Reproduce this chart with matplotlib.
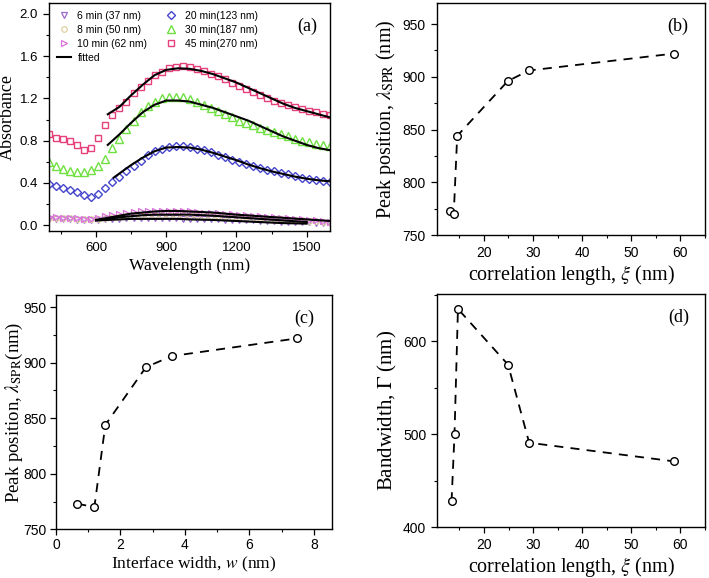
import matplotlib
matplotlib.use("Agg")
import matplotlib.pyplot as plt
from matplotlib.ticker import MultipleLocator

plt.rcParams['font.family'] = ['Liberation Sans', 'DejaVu Sans']
plt.rcParams['mathtext.fontset'] = 'stix'

# ---- panel (a): absorbance spectra ----
wl = [400, 430, 460, 490, 520, 550, 580, 610, 640, 670, 700, 730, 760, 790, 820,
      850, 880, 910, 940, 970, 1000, 1030, 1060, 1090, 1120, 1150, 1180, 1210,
      1240, 1270, 1300, 1330, 1360, 1390, 1420, 1450, 1480, 1510, 1540, 1570, 1600]

abs_6 = [0.06, 0.06, 0.055, 0.055, 0.05, 0.05, 0.045, 0.05, 0.055, 0.06, 0.06, 0.065,
         0.065, 0.065, 0.065, 0.065, 0.065, 0.065, 0.065, 0.06, 0.06, 0.06, 0.055,
         0.055, 0.055, 0.05, 0.05, 0.05, 0.045, 0.045, 0.04, 0.04, 0.04, 0.035, 0.035,
         0.03, 0.03, 0.03, 0.025, 0.025, 0.02]
abs_8 = [0.07, 0.07, 0.065, 0.065, 0.06, 0.06, 0.055, 0.06, 0.07, 0.075, 0.08, 0.085,
         0.09, 0.095, 0.095, 0.10, 0.10, 0.10, 0.10, 0.10, 0.095, 0.095, 0.09, 0.09,
         0.085, 0.085, 0.08, 0.075, 0.075, 0.07, 0.065, 0.06, 0.06, 0.055, 0.05, 0.05,
         0.045, 0.04, 0.04, 0.035, 0.03]
abs_10 = [0.08, 0.075, 0.07, 0.07, 0.065, 0.06, 0.06, 0.07, 0.085, 0.10, 0.11, 0.12,
          0.125, 0.13, 0.13, 0.135, 0.135, 0.135, 0.135, 0.13, 0.13, 0.125, 0.12, 0.12,
          0.115, 0.11, 0.105, 0.10, 0.095, 0.09, 0.085, 0.08, 0.075, 0.07, 0.065, 0.06,
          0.055, 0.05, 0.045, 0.04, 0.035]
abs_20 = [0.39, 0.37, 0.35, 0.33, 0.31, 0.29, 0.27, 0.30, 0.35, 0.41, 0.46, 0.51, 0.56,
          0.61, 0.66, 0.70, 0.725, 0.74, 0.75, 0.745, 0.74, 0.725, 0.71, 0.69, 0.665,
          0.645, 0.62, 0.60, 0.58, 0.56, 0.545, 0.525, 0.51, 0.495, 0.48, 0.465, 0.45,
          0.435, 0.425, 0.415, 0.405]
abs_30 = [0.60, 0.56, 0.53, 0.51, 0.50, 0.50, 0.52, 0.56, 0.63, 0.73, 0.82, 0.91, 0.99,
          1.07, 1.13, 1.17, 1.20, 1.21, 1.215, 1.21, 1.19, 1.17, 1.14, 1.11, 1.08, 1.05,
          1.02, 0.99, 0.97, 0.95, 0.92, 0.90, 0.88, 0.86, 0.84, 0.82, 0.80, 0.79, 0.77,
          0.76, 0.75]
abs_45 = [0.86, 0.83, 0.82, 0.80, 0.76, 0.71, 0.73, 0.83, 0.95, 1.04, 1.11, 1.17, 1.25,
          1.31, 1.36, 1.42, 1.45, 1.485, 1.50, 1.505, 1.50, 1.48, 1.46, 1.43, 1.41, 1.38,
          1.35, 1.32, 1.29, 1.26, 1.23, 1.20, 1.18, 1.16, 1.14, 1.12, 1.10, 1.08, 1.07,
          1.05, 1.04]

# fitted curves
fit_wl_hi = [650, 700, 750, 800, 850, 900, 950, 1000, 1050, 1100, 1150, 1200, 1250,
             1300, 1350, 1400, 1450, 1500, 1550, 1600]
fit_45 = [1.05, 1.12, 1.23, 1.33, 1.42, 1.47, 1.485, 1.48, 1.46, 1.43, 1.39, 1.35, 1.30,
          1.25, 1.20, 1.15, 1.11, 1.08, 1.05, 1.02]
fit_30 = [0.76, 0.86, 0.97, 1.07, 1.14, 1.18, 1.18, 1.17, 1.14, 1.11, 1.07, 1.03, 0.99,
          0.94, 0.89, 0.84, 0.80, 0.76, 0.73, 0.71]
fit_wl_20 = [675, 700, 750, 800, 850, 900, 950, 1000, 1050, 1100, 1150, 1200, 1250,
             1300, 1350, 1400, 1450, 1500, 1550, 1600]
fit_20 = [0.45, 0.49, 0.57, 0.64, 0.70, 0.735, 0.74, 0.735, 0.715, 0.685, 0.65, 0.615,
          0.575, 0.54, 0.51, 0.485, 0.46, 0.44, 0.425, 0.415]
fit_wl_lo = [600, 650, 700, 750, 800, 850, 900, 950, 1000, 1100, 1200, 1300, 1400, 1500, 1600]
fit_10 = [0.05, 0.07, 0.09, 0.11, 0.12, 0.13, 0.135, 0.135, 0.13, 0.12, 0.10, 0.085,
          0.07, 0.055, 0.04]
fit_8 = [0.05, 0.06, 0.075, 0.085, 0.095, 0.10, 0.10, 0.10, 0.10, 0.09, 0.075, 0.06,
         0.045, 0.03]
fit_6 = [0.045, 0.05, 0.055, 0.06, 0.06, 0.06, 0.06, 0.06, 0.055, 0.05, 0.04, 0.03,
         0.02, 0.015]

# ---- panels (b)-(d) ----
xi = [13.2, 13.9, 14.6, 24.9, 29.2, 58.6]
w = [0.66, 1.19, 1.53, 2.79, 3.59, 7.49]
peak = [773, 770, 844, 896, 906, 922]
xi_d = [13.4, 14.0, 14.7, 24.9, 29.2, 58.6]
bandwidth = [428, 500, 635, 575, 491, 471]

fig = plt.figure(figsize=(7.09, 5.78), dpi=100)
ax_a = fig.add_axes([0.0695, 0.6012, 0.396, 0.3931])
ax_b = fig.add_axes([0.6164, 0.5934, 0.378, 0.4014])
ax_c = fig.add_axes([0.079, 0.0843, 0.3888, 0.4053])
ax_d = fig.add_axes([0.6168, 0.0877, 0.3776, 0.4036])

serif = 'Liberation Serif'


def style(ax, fs, pad=4):
    ax.tick_params(which='both', direction='out', labelsize=fs, top=False, right=False)
    ax.tick_params(which='major', length=4, width=0.9, pad=pad)
    ax.tick_params(which='minor', length=2.5, width=0.8)
    for s in ax.spines.values():
        s.set_linewidth(1.0)


# (a)
ax_a.plot(wl, abs_6, 'v', mfc='none', mec='#9a6ad0', ms=4, mew=0.9, label='6 min (37 nm)')
ax_a.plot(wl, abs_8, 'o', mfc='none', mec='#e0d0a0', ms=4, mew=0.9, label='8 min (50 nm)')
ax_a.plot(wl, abs_10, '>', mfc='none', mec='#dc70dc', ms=4, mew=0.9, label='10 min (62 nm)')
ax_a.plot(fit_wl_lo, fit_10, '-', color='black', lw=1.5, label='fitted')
ax_a.plot(fit_wl_lo[:-1], fit_8, '-', color='black', lw=1.5)
ax_a.plot(fit_wl_lo[:-1], fit_6, '-', color='black', lw=1.5)
ax_a.plot(wl, abs_20, 'D', mfc='none', mec='#4646cc', ms=4.5, mew=1.0, label='20 min(123 nm)')
ax_a.plot(wl, abs_30, '^', mfc='none', mec='#6ee040', ms=5.5, mew=1.0, label='30 min(187 nm)')
ax_a.plot(wl, abs_45, 's', mfc='none', mec='#e6407c', ms=5, mew=1.0, label='45 min(270 nm)')
ax_a.plot(fit_wl_hi, fit_45, '-', color='black', lw=1.5)
ax_a.plot(fit_wl_hi, fit_30, '-', color='black', lw=1.5)
ax_a.plot(fit_wl_20, fit_20, '-', color='black', lw=1.5)

ax_a.set_xlim(400, 1600)
ax_a.set_ylim(-0.05, 2.1)
ax_a.xaxis.set_major_locator(MultipleLocator(300))
ax_a.xaxis.set_minor_locator(MultipleLocator(150))
ax_a.yaxis.set_major_locator(MultipleLocator(0.4))
ax_a.yaxis.set_minor_locator(MultipleLocator(0.2))
ax_a.yaxis.set_major_formatter(plt.FormatStrFormatter('%.1f'))
ax_a.set_xlabel('Wavelength (nm)', family=serif, fontsize=12.5, labelpad=3)
ax_a.set_ylabel('Absorbance', family=serif, fontsize=13, labelpad=3)
ax_a.text(0.92, 0.90, '(a)', transform=ax_a.transAxes, family=serif, fontsize=13,
          ha='center', va='center')
ax_a.legend(ncol=2, loc='upper left', bbox_to_anchor=(0.0, 1.0), frameon=False,
            fontsize=7.5, handlelength=1.4, handletextpad=0.6, columnspacing=1.6,
            labelspacing=0.4, borderaxespad=0.3)
style(ax_a, 9.5)

# (b)
line_kw = dict(color='black', ls=(0, (5, 4)), lw=1.3, marker='o', mfc='white',
               mec='black', ms=5.5, mew=1.0)
ax_b.plot(xi, peak, **line_kw)
ax_b.set_xlim(10.5, 65)
ax_b.set_ylim(750, 970)
ax_b.xaxis.set_major_locator(MultipleLocator(10))
ax_b.xaxis.set_minor_locator(MultipleLocator(5))
ax_b.yaxis.set_major_locator(MultipleLocator(50))
ax_b.yaxis.set_minor_locator(MultipleLocator(25))
ax_b.set_xlabel(r'correlation length, $\xi$ (nm)', family=serif, fontsize=14.5, labelpad=2)
ax_b.set_ylabel(r'Peak position, $\lambda_{\rm SPR}$ (nm)', family=serif, fontsize=14.5,
                labelpad=3)
ax_b.text(0.90, 0.90, '(b)', transform=ax_b.transAxes, family=serif, fontsize=13,
          ha='center', va='center')
style(ax_b, 10)

# (c)
ax_c.plot(w, peak, **line_kw)
ax_c.set_xlim(0, 8.55)
ax_c.set_ylim(750, 961)
ax_c.xaxis.set_major_locator(MultipleLocator(2))
ax_c.xaxis.set_minor_locator(MultipleLocator(1))
ax_c.yaxis.set_major_locator(MultipleLocator(50))
ax_c.yaxis.set_minor_locator(MultipleLocator(25))
ax_c.set_xlabel(r'Interface width, $w$ (nm)', family=serif, fontsize=12.5, labelpad=2)
ax_c.set_ylabel(r'Peak position, $\lambda_{\rm SPR}$(nm)', family=serif, fontsize=13.5)
ax_c.yaxis.set_label_coords(-0.112, 0.5)
ax_c.text(0.90, 0.90, '(c)', transform=ax_c.transAxes, family=serif, fontsize=13,
          ha='center', va='center')
style(ax_c, 10, pad=2.5)

# (d)
ax_d.plot(xi_d, bandwidth, **line_kw)
ax_d.set_xlim(10.5, 65)
ax_d.set_ylim(400, 651)
ax_d.xaxis.set_major_locator(MultipleLocator(10))
ax_d.xaxis.set_minor_locator(MultipleLocator(5))
ax_d.yaxis.set_major_locator(MultipleLocator(100))
ax_d.yaxis.set_minor_locator(MultipleLocator(50))
ax_d.set_xlabel(r'correlation length, $\xi$ (nm)', family=serif, fontsize=14.5, labelpad=2)
ax_d.set_ylabel(r'Bandwidth, $\Gamma$ (nm)', family=serif, fontsize=15, labelpad=3)
ax_d.text(0.90, 0.90, '(d)', transform=ax_d.transAxes, family=serif, fontsize=13,
          ha='center', va='center')
style(ax_d, 10)

fig.savefig('out.png', dpi=100)
